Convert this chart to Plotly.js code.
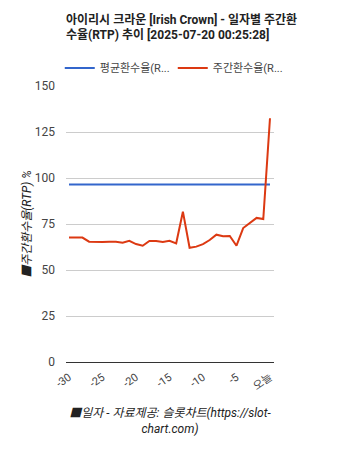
<!DOCTYPE html>
<html><head><meta charset="utf-8">
<script src="https://cdn.plot.ly/plotly-3.0.1.min.js"></script>
<style>html,body{margin:0;padding:0;background:#fff}#chart{width:338px;height:450px}</style>
</head><body><div id="chart"></div>
<script>
const days = [-30,-29,-28,-27,-26,-25,-24,-23,-22,-21,-20,-19,-18,-17,-16,-15,-14,-13,-12,-11,-10,-9,-8,-7,-6,-5,-4,-3,-2,-1,0];
const avgRtp = [96.4,96.4,96.4,96.4,96.4,96.4,96.4,96.4,96.4,96.4,96.4,96.4,96.4,96.4,96.4,96.4,96.4,96.4,96.4,96.4,96.4,96.4,96.4,96.4,96.4,96.4,96.4,96.4,96.4,96.4,96.4];
const weeklyRtp = [67.6,67.6,67.6,65.4,65.2,65.2,65.4,65.4,64.8,65.9,64.1,63.2,65.8,65.8,65.2,65.9,64.5,81.7,62.1,62.7,64.1,66.3,69.2,68.3,68.5,63.2,72.8,75.4,78.3,77.7,132.5];
const tickVals = [-30,-25,-20,-15,-10,-5,0];
const tickText = ['-30','-25','-20','-15','-10','-5','오늘'];
const seriesNames = ['평균환수율(R...','주간환수율(R...'];

const font = 'Roboto, "Noto Sans CJK KR", sans-serif';
const data = [
  {x: days, y: avgRtp, name: seriesNames[0], type: 'scatter', mode: 'lines', line: {color: '#3366cc', width: 2}},
  {x: days, y: weeklyRtp, name: seriesNames[1], type: 'scatter', mode: 'lines', line: {color: '#dc3912', width: 2}}
];
const layout = {
  width: 338, height: 450,
  margin: {l: 66, r: 64, t: 86, b: 88},
  paper_bgcolor: '#fff', plot_bgcolor: '#fff',
  font: {family: font, size: 12, color: '#444'},
  title: {text: '<b>아이리시 크라운 [Irish Crown] - 일자별 주간환<br>수율(RTP) 추이 [2025-07-20 00:25:28]</b>',
    font: {family: font, size: 12, color: '#222'}, x: 0, xref: 'paper', xanchor: 'left', y: 0.947, yref: 'container', yanchor: 'top'},
  showlegend: true,
  legend: {orientation: 'h', x: -0.03, xanchor: 'left', y: 1.065, yanchor: 'middle', font: {family: font, size: 11, color: '#444'},
    itemwidth: 30, entrywidth: 68, entrywidthmode: 'pixels'},
  xaxis: {range: [-30.45, 0.6], tickvals: tickVals, ticktext: tickText, tickangle: -35, showgrid: false, zeroline: false,
    showline: false, ticks: '', tickfont: {size: 11, color: '#444'}, ticklabelstandoff: 6,
    title: {text: '<i>■일자 - 자료제공: 슬롯차트(https://slot-<br>chart.com)</i>', font: {size: 12, color: '#222'}, standoff: 16}},
  yaxis: {range: [0, 150], tickvals: [0,25,50,75,100,125,150], showgrid: true, gridcolor: '#ccc', zeroline: true, zerolinecolor: '#333', zerolinewidth: 1,
    ticks: '', tickfont: {size: 12, color: '#444'}, ticklabelstandoff: 10,
    title: {text: '<i>■주간환수율(RTP) %</i>', font: {size: 12, color: '#222'}, standoff: 0}}
};
Plotly.newPlot('chart', data, layout, {displayModeBar: false, staticPlot: true});
</script></body></html>
